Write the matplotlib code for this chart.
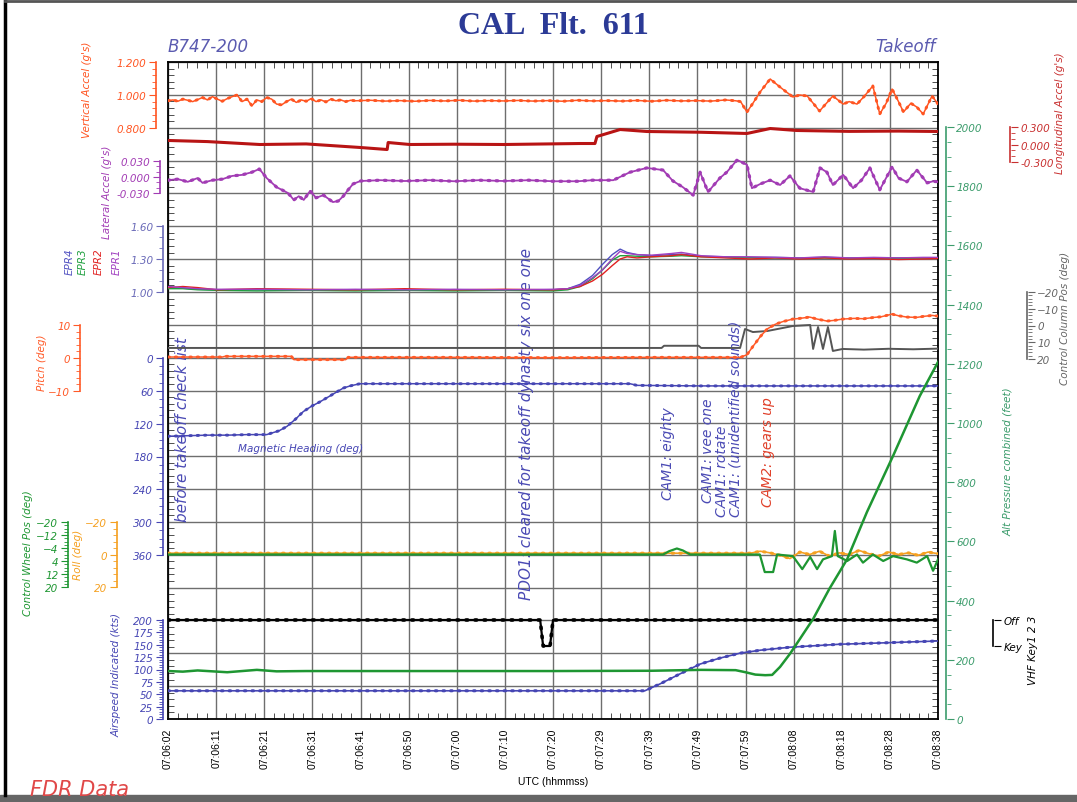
import matplotlib.pyplot as plt
import numpy as np
from matplotlib.ticker import AutoMinorLocator, FixedLocator, MultipleLocator

W, H = 1077, 803

# time axis: seconds after 07:06:00
tick_sec = np.linspace(2, 158, 17)
tick_labels = ["07:06:02", "07:06:11", "07:06:21", "07:06:31", "07:06:41", "07:06:50",
               "07:07:00", "07:07:10", "07:07:20", "07:07:29", "07:07:39", "07:07:49",
               "07:07:59", "07:08:08", "07:08:18", "07:08:28", "07:08:38"]

vert_t = [2, 3, 4, 5, 6, 7, 8, 9, 10, 11, 12, 13, 14, 15, 16, 17, 18, 19, 20, 21, 22, 23, 24,
          25, 26, 27, 28, 29, 30, 31, 32, 33, 34, 35, 36, 37, 38, 39, 40, 43, 46, 49, 52, 55,
          58, 61, 64, 67, 70, 73, 76, 79, 82, 85, 88, 91, 94, 97, 100, 103, 106, 109, 112, 115,
          117, 118, 119.3, 120.5, 122, 124, 126, 128.6, 130, 131.5, 134, 136.7, 138.8, 140,
          141.6, 143, 144.8, 146.2, 147.5, 148.7, 150, 151, 152.5, 153.7, 155, 156.8, 158]
vert_g = [0.965, 0.97, 0.962, 0.975, 0.968, 0.96, 0.972, 0.985, 0.97, 0.99, 0.975, 0.962,
          0.978, 0.99, 1.0, 0.96, 0.975, 0.935, 0.97, 0.96, 0.985, 0.975, 0.945, 0.94, 0.96,
          0.975, 0.955, 0.97, 0.962, 0.978, 0.96, 0.97, 0.958, 0.975, 0.965, 0.97, 0.96, 0.968,
          0.965, 0.968, 0.963, 0.966, 0.962, 0.967, 0.964, 0.968, 0.963, 0.966, 0.964, 0.967,
          0.963, 0.966, 0.962, 0.968, 0.964, 0.966, 0.963, 0.967, 0.962, 0.968, 0.964, 0.966,
          0.963, 0.97, 0.965, 0.96, 0.897, 0.95, 1.02, 1.097, 1.048, 0.988, 1.0, 0.994, 0.903,
          0.994, 0.945, 0.96, 0.945, 0.99, 1.055, 0.885, 0.95, 1.036, 0.96, 0.897, 0.95, 0.927,
          0.885, 0.994, 0.945]

long_t = [2, 10, 20.6, 30, 40.9, 46.4, 46.6, 51, 60, 70, 85.5, 88.5, 88.9, 93.6, 99, 110,
          119.3, 124, 129.4, 140, 150, 158]
long_g = [0.069, 0.05, 0.0, 0.01, -0.051, -0.086, 0.034, 0.0, 0.005, 0.0, 0.017, 0.017,
          0.137, 0.257, 0.223, 0.21, 0.189, 0.274, 0.24, 0.225, 0.23, 0.223]

lat_t = [2, 4, 6, 8, 9, 11, 13, 15, 17, 19, 20.5, 22, 24, 26.3, 27.5, 28.5, 29.5, 30.8, 32,
         33.5, 35.4, 36.5, 37.5, 38.5, 39.5, 41, 45, 50, 55, 60, 65, 70, 75, 80, 85, 88, 92.2,
         95.6, 99, 102.3, 104.3, 106.3, 108.4, 109.8, 111.4, 113.8, 115.2, 117.3, 119.3, 120.3,
         122, 124, 126, 128, 130, 132.7, 134.1, 135.5, 136.7, 138.8, 140.8, 142.5, 144.2, 146.2,
         148.7, 150, 151.7, 153.7, 155.8, 157, 158]
lat_g = [-0.006, -0.004, -0.009, -0.002, -0.011, -0.006, -0.004, 0.002, 0.004, 0.009, 0.015,
         -0.002, -0.019, -0.030, -0.043, -0.036, -0.043, -0.026, -0.039, -0.034, -0.047, -0.045,
         -0.036, -0.024, -0.013, -0.0075, -0.006, -0.0075, -0.006, -0.008, -0.006, -0.0075,
         -0.006, -0.008, -0.008, -0.006, -0.006, 0.009, 0.017, 0.013, -0.0075, -0.019, -0.034,
         0.009, -0.028, -0.002, 0.009, 0.032, 0.023, -0.021, -0.013, -0.006, -0.015, 0.002,
         -0.021, -0.028, 0.017, 0.009, -0.015, 0.004, -0.021, -0.006, 0.017, -0.024, 0.019,
         -0.002, -0.009, 0.013, -0.011, -0.008, -0.009]

epr_t = [2, 5, 8, 12, 20, 30, 40, 50, 60, 70, 80, 83, 85.5, 88, 90, 92, 93.6, 95, 97, 100,
         104, 106, 110, 115, 120, 125, 130, 135, 140, 145, 150, 155, 158]
epr1 = [1.05, 1.04, 1.03, 1.025, 1.025, 1.02, 1.025, 1.02, 1.025, 1.02, 1.025, 1.03, 1.06,
        1.13, 1.2, 1.3, 1.37, 1.35, 1.34, 1.335, 1.35, 1.36, 1.33, 1.32, 1.32, 1.315, 1.31,
        1.32, 1.31, 1.315, 1.31, 1.315, 1.315]
epr2 = [1.04, 1.05, 1.04, 1.02, 1.03, 1.025, 1.02, 1.03, 1.02, 1.025, 1.02, 1.03, 1.05, 1.1,
        1.16, 1.24, 1.3, 1.32, 1.31, 1.32, 1.33, 1.34, 1.32, 1.31, 1.3, 1.31, 1.3, 1.31, 1.3,
        1.305, 1.295, 1.3, 1.305]
epr3 = [1.03, 1.03, 1.02, 1.015, 1.01, 1.015, 1.01, 1.015, 1.01, 1.015, 1.01, 1.02, 1.05,
        1.12, 1.2, 1.29, 1.33, 1.33, 1.325, 1.32, 1.325, 1.33, 1.32, 1.315, 1.31, 1.31, 1.305,
        1.31, 1.305, 1.31, 1.305, 1.31, 1.31]
epr4 = [1.04, 1.035, 1.025, 1.02, 1.02, 1.02, 1.02, 1.02, 1.02, 1.02, 1.02, 1.03, 1.07, 1.15,
        1.25, 1.34, 1.39, 1.36, 1.34, 1.33, 1.34, 1.345, 1.325, 1.32, 1.315, 1.315, 1.31, 1.315,
        1.31, 1.31, 1.31, 1.31, 1.31]

pitch_t = [2, 13, 13.5, 27, 27.5, 38, 38.5, 60, 80, 100, 118, 119.3, 120.5, 122, 123.4, 125,
           126.5, 128.6, 130, 132, 133.5, 135.5, 137, 138.7, 141, 143, 145, 146.5, 148.7, 150,
           151.7, 153.7, 155, 156.8, 158]
pitch_deg = [0.3, 0.3, 0.5, 0.5, -0.5, -0.5, 0.2, 0.2, 0.1, 0.2, 0.2, 1.0, 3.5, 6.5, 8.8,
             10.2, 11.0, 11.8, 12.0, 12.4, 11.8, 11.2, 11.4, 11.8, 12.0, 11.9, 12.3, 12.5, 13.3,
             12.8, 12.4, 12.3, 12.6, 12.9, 12.7]

head_t = [2, 6, 10, 14, 18, 22, 22.7, 24.5, 26.1, 27.8, 29.4, 31.1, 32.8, 34.5, 36.2, 37.5,
          38.9, 40.9, 50, 60, 70, 80, 90, 95.6, 97, 110, 120, 130, 140, 150, 158]
head_deg = [143, 142, 141, 141, 140, 140, 138, 133, 125, 112, 98, 88, 80, 71, 62, 55, 51, 47,
            47, 47, 47, 47, 47, 47, 50, 51, 51, 51, 51, 51, 51]

ccol_t = [2, 102, 102.5, 109.5, 110, 117.9, 118.9, 120.5, 123.4, 128.6, 132.1, 132.7, 133.7,
          134.7, 135.7, 136.7, 138.7, 143, 148, 153, 158]
ccol_deg = [13.4, 13.4, 12.1, 12.1, 13.4, 13.4, 2.1, 3.9, 3.3, 0.3, -0.3, 14.0, 0.9, 14.0, 0.9,
            15.2, 14.0, 14.4, 13.9, 14.2, 13.8]

wheel_t = [2, 20, 40, 60, 80, 100, 102.3, 103.5, 105.1, 106.3, 107.8, 110, 115, 121.9, 122.9,
           124.6, 125.4, 127, 128.6, 130.5, 132.1, 133.5, 134.7, 136.5, 137.1, 137.7, 139.6,
           141.6, 142.8, 144.8, 146.9, 148.9, 151.7, 153.7, 155.8, 157, 158]
wheel_deg = [0, 0, 0, 0, 0, 0, 0, -2, -3.7, -2.5, 0, 0, 0, 0, 10.8, 10.8, 0, 0.5, 1, 9, 1.5,
             9, 3, 1, -14.5, 1, 4, 0, 5, 0, 4, 1, 3, 5, 1, 10, 3]

roll_t = [2, 30, 60, 90, 120, 122, 124, 126, 128, 130, 132, 134, 136, 138, 140, 142, 144, 146,
          148, 150, 152, 154, 156, 158]
roll_deg = [-0.8, -0.8, -0.8, -0.8, -0.8, -2, -1, 0.5, 2.5, -1.5, 0, -2, 1, -1, 0, -2.5, -0.5,
            1, -1.5, 0, -1, 0.5, -1.5, -0.5]

alt_t = [2, 5, 8, 11, 14, 17, 20, 24, 30, 40, 60, 80, 100, 110, 117, 119, 121, 123, 124.4,
         126, 128, 130, 132.7, 136, 139.6, 143.6, 148.9, 154.3, 158]
alt_ft = [162, 160, 164, 161, 158, 162, 166, 161, 162, 162, 162, 162, 163, 166, 165, 158, 150,
          148, 149, 176, 220, 270, 338, 440, 540, 699, 889, 1091, 1206]

ias_t = [2, 20, 40, 60, 80, 98.6, 101.7, 105.7, 109.8, 113.8, 117.9, 122, 128, 138, 146, 158]
ias_kts = [57, 57, 57, 57, 57, 57, 71, 91, 111, 123, 133, 139, 145, 151, 153.5, 157.6]

vhf_t = [2, 77.4, 78, 79.4, 80, 158]
vhf_key = [1, 1, 0, 0, 1, 1]

notes = [(5.0, 6.03, "before takeoff check list", "#4a4ab4", 11),
         (74.7, 3.65, "PDO1: cleared for takeoff dynasty six one one", "#4a4ab4", 11),
         (103.3, 6.70, "CAM1: eighty", "#4a4ab4", 10),
         (111.4, 6.61, "CAM1: vee one", "#4a4ab4", 10),
         (114.2, 6.18, "CAM1: rotate", "#4a4ab4", 10),
         (116.9, 6.18, "CAM1: (unidentified sounds)", "#4a4ab4", 10),
         (123.6, 6.48, "CAM2: gears up", "#e0402a", 10)]

fig = plt.figure(figsize=(W / 100, H / 100), dpi=100)
rect = [168 / W, 1 - 720 / H, 770 / W, 657 / H]

ax = fig.add_axes(rect)
ax.set_xlim(2, 158)
ax.set_ylim(0, 20)
ax.set_xticks(tick_sec, tick_labels, rotation=90, fontsize=7.5, family='Liberation Sans')
ax.set_yticks(range(21))
ax.set_yticklabels([])
ax.grid(True, color='#6e6e6e', lw=1.0)
ax.set_axisbelow(True)
ax.xaxis.set_minor_locator(AutoMinorLocator(5))
ax.yaxis.set_minor_locator(AutoMinorLocator(5))
ax.tick_params(which='major', length=0, pad=6)
ax.tick_params(which='minor', direction='in', length=4, top=True, right=True, color='#333')
for s in ax.spines.values():
    s.set_linewidth(1.3)
ax.set_xlabel("UTC (hhmmss)", fontsize=7.5, family='Liberation Sans', labelpad=6)


def overlay(v_top, y_top, v_bot, y_bot):
    a = fig.add_axes(rect, sharex=ax)
    k = (v_bot - v_top) / (y_bot - y_top)
    a.set_ylim(v_top + k * (720 - y_top), v_top + k * (63 - y_top))
    a.set_axis_off()
    return a


def trace(a, t, v, color, lw=1.2, dots=True):
    a.plot(t, v, color=color, lw=lw, solid_joinstyle='round')
    if dots:
        a.plot(t, v, color=color, lw=lw + 1.0, ls=(0, (0.5, 2.0)), dash_capstyle='round')


def scale(x, v_top, y_top, v_bot, y_bot, color, major, minor, labels=None, right=False):
    a = fig.add_axes([x / W, 1 - y_bot / H, 0.0005, (y_bot - y_top) / H])
    a.set_ylim(v_bot, v_top)
    a.patch.set_visible(False)
    for s in ['top', 'bottom', 'right']:
        a.spines[s].set_visible(False)
    a.spines['left'].set_color(color)
    a.spines['left'].set_linewidth(1.2)
    a.set_xticks([])
    a.yaxis.set_major_locator(FixedLocator(major))
    if labels is not None:
        a.set_yticklabels(labels)
    if minor:
        a.yaxis.set_minor_locator(MultipleLocator(minor))
    if right:
        a.yaxis.tick_right()
    a.tick_params(which='major', length=5, pad=2, colors=color, labelsize=7.5)
    a.tick_params(which='minor', length=3, colors=color)
    for lab in a.get_yticklabels():
        lab.set_style('italic')
    return a


c_vert, c_long, c_lat = '#ff5522', '#b81414', '#a23cb4'
c_pitch, c_head, c_ccol = '#ff5a28', '#4646b4', '#555555'
c_wheel, c_roll, c_alt = '#1e9632', '#f5a020', '#3c9c6c'

a = overlay(1.2, 63, 0.8, 129)
trace(a, vert_t, vert_g, c_vert, lw=1.1)
a = overlay(0.3, 128, -0.3, 163)
trace(a, long_t, long_g, c_long, lw=2.2, dots=False)
a = overlay(0.03, 162, -0.03, 194)
trace(a, lat_t, lat_g, c_lat, lw=1.3)
a = overlay(1.6, 227, 1.0, 293)
for v, c in [(epr4, '#5050c0'), (epr3, '#20a040'), (epr2, '#e02020'), (epr1, '#a040c0')]:
    trace(a, epr_t, v, c, lw=1.0, dots=False)
a = overlay(-20, 293, 20, 360)
trace(a, ccol_t, ccol_deg, c_ccol, lw=1.4, dots=False)
a = overlay(10, 326, -10, 392)
trace(a, pitch_t, pitch_deg, c_pitch, lw=1.1)
a = overlay(0, 359, 360, 556)
trace(a, head_t, head_deg, c_head, lw=1.1)
a = overlay(-20, 523, 20, 588)
trace(a, roll_t, roll_deg, c_roll, lw=1.2)
a = overlay(-20, 523, 20, 588)
trace(a, wheel_t, wheel_deg, c_wheel, lw=1.6, dots=False)
a = overlay(200, 621, 0, 720)
trace(a, ias_t, ias_kts, c_head, lw=1.2)
a = overlay(1, 621, 0, 647)
trace(a, vhf_t, vhf_key, 'black', lw=1.6)
a = overlay(2000, 128, 0, 720)
trace(a, alt_t, alt_ft, c_wheel, lw=1.8, dots=False)

for t, y, txt, c, fs in notes:
    ax.text(t, y, txt, rotation=90, ha='center', va='bottom', color=c, fontsize=fs,
            style='italic')
ax.text(16.2, 8.25, "Magnetic Heading (deg)", color=c_head, fontsize=7.5, style='italic',
        va='center')

# left scales
scale(156, 1.2, 63, 0.8, 129, c_vert, [0.8, 1.0, 1.2], 0.04, ["0.800", "1.000", "1.200"])
scale(160, 0.03, 162, -0.03, 194, c_lat, [-0.03, 0, 0.03], 0.01, ["-0.030", "0.000", "0.030"])
scale(163, 1.6, 227, 1.0, 293, '#6a6ab8', [1.0, 1.3, 1.6], 0.1, ["1.00", "1.30", "1.60"])
scale(80, 10, 326, -10, 392, c_pitch, [-10, 0, 10], 2)
scale(163, 0, 359, 360, 556, c_head, [0, 60, 120, 180, 240, 300, 360], 15)
scale(68, -20, 523, 20, 588, c_wheel, [-20, -12, -4, 4, 12, 20], 2)
scale(117, -20, 523, 20, 588, c_roll, [-20, 0, 20], 4)
scale(163, 200, 621, 0, 720, c_head, list(range(0, 201, 25)), 5)
# right scales
scale(946, 2000, 128, 0, 720, c_alt, list(range(0, 2001, 200)), 50, right=True)
scale(1010, 0.3, 128, -0.3, 163, '#c83030', [-0.3, 0, 0.3], 0.1,
      ["-0.300", "0.000", "0.300"], right=True)
scale(1027, -20, 293, 20, 360, '#666666', [-20, -10, 0, 10, 20], 2, right=True)
scale(993, 1, 621, 0, 647, 'black', [0, 1], None, ["Key", "Off"], right=True)

side_labels = [(87, 90, "Vertical Accel (g's)", c_vert),
               (107, 192, "Lateral Accel (g's)", c_lat),
               (70, 262, "EPR4", '#5050c0'), (83, 262, "EPR3", '#20a040'),
               (99, 262, "EPR2", '#e02020'), (117, 262, "EPR1", '#a040c0'),
               (42, 363, "Pitch (deg)", c_pitch),
               (28, 553, "Control Wheel Pos (deg)", c_wheel),
               (78, 555, "Roll (deg)", c_roll),
               (117, 675, "Airspeed Indicated (kts)", c_head),
               (1060, 113, "Longitudinal Accel (g's)", '#c83030'),
               (1065, 318, "Control Column Pos (deg)", '#666666'),
               (1008, 462, "Alt Pressure combined (feet)", c_alt),
               (1033, 650, "VHF Key1 2 3", 'black')]
for x, y, txt, c in side_labels:
    fig.text(x / W, 1 - y / H, txt, rotation=90, ha='center', va='center', color=c,
             fontsize=7.5, style='italic')

fig.text(553 / W, 1 - 26 / H, "CAL  Flt.  611", ha='center', va='center', fontsize=23,
         family='Liberation Serif', weight='bold', color='#2b3a96')
fig.text(168 / W, 1 - 47 / H, "B747-200", ha='left', va='center', fontsize=12,
         style='italic', color='#5b5bb0')
fig.text(936 / W, 1 - 47 / H, "Takeoff", ha='right', va='center', fontsize=12,
         style='italic', color='#5b5bb0')
fig.text(30 / W, 1 - 790 / H, "FDR Data", ha='left', va='center', fontsize=15,
         style='italic', color='#e04848')

# page frame
fig.add_artist(plt.Line2D([5 / W, 5 / W], [7 / H, 1], color='black', lw=2.5))
fig.add_artist(plt.Line2D([5 / W, 1], [1 - 2 / H, 1 - 2 / H], color='#555555', lw=2))
fig.add_artist(plt.Rectangle((0, 0), 1, 7 / H, color='#666666', transform=fig.transFigure))

fig.savefig("out.png", dpi=100)
